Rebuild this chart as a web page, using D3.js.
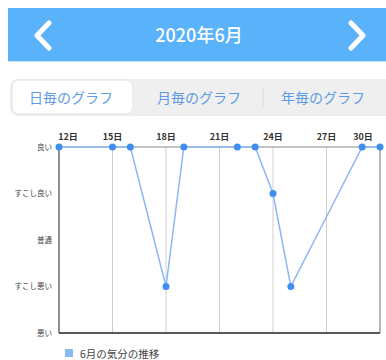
<!DOCTYPE html>
<html>
<head>
<meta charset="utf-8">
<script src="https://cdn.jsdelivr.net/npm/d3@7"></script>
<style>
  body { margin: 0; background: #fff; }
  svg { display: block; font-family: "Noto Sans CJK JP", "Noto Sans", sans-serif; }
</style>
</head>
<body>
<script>
// data
var days = [12, 15, 16, 18, 19, 22, 23, 24, 25, 29, 30];
var moods = ["良い", "良い", "良い", "すこし悪い", "良い", "良い", "良い", "すこし良い", "すこし悪い", "良い", "良い"];
var levels = ["悪い", "すこし悪い", "普通", "すこし良い", "良い"];
var dayTicks = [12, 15, 18, 21, 24, 27, 30];
var tabs = ["日毎のグラフ", "月毎のグラフ", "年毎のグラフ"];
var title = "2020年6月";
var legendLabel = "6月の気分の推移";

var W = 386, H = 360;
var svg = d3.select("body").append("svg").attr("width", W).attr("height", H);

// header bar
svg.append("rect").attr("x", 8).attr("y", 8).attr("width", W - 8).attr("height", 53).attr("fill", "#5ab3fa");
svg.append("rect").attr("x", 8).attr("y", 61).attr("width", W - 8).attr("height", 1).attr("fill", "#c9e4fb");
svg.append("text").attr("x", 199).attr("y", 42).attr("text-anchor", "middle")
  .attr("fill", "#fff").attr("font-size", 18).attr("font-weight", 500).text(title);
svg.append("path").attr("d", "M49,23 L37,35.5 L49,48").attr("fill", "none")
  .attr("stroke", "#fff").attr("stroke-width", 5).attr("stroke-linecap", "round").attr("stroke-linejoin", "round");
svg.append("path").attr("d", "M351,23 L363,35.5 L351,48").attr("fill", "none")
  .attr("stroke", "#fff").attr("stroke-width", 5).attr("stroke-linecap", "round").attr("stroke-linejoin", "round");

// segmented control
svg.append("rect").attr("x", 10).attr("y", 79).attr("width", 386).attr("height", 37).attr("rx", 8).attr("fill", "#efeff0");
svg.append("rect").attr("x", 12).attr("y", 80).attr("width", 121).attr("height", 34).attr("rx", 7)
  .attr("fill", "#fff").attr("stroke", "#e2e2e2");
svg.append("line").attr("x1", 263).attr("x2", 263).attr("y1", 87).attr("y2", 108).attr("stroke", "#d8d8d8");
var tabX = [71, 199, 323];
svg.selectAll(".tab").data(tabs).enter().append("text")
  .attr("x", function(d, i) { return tabX[i]; }).attr("y", 103)
  .attr("text-anchor", "middle").attr("font-size", 14).attr("fill", "#5b9be6")
  .text(function(d) { return d; });

// chart
var x = d3.scaleLinear().domain([12, 30]).range([59, 380]);
var y = d3.scalePoint().domain(levels).range([333, 147]);

var g = svg.append("g");

// vertical grid
g.selectAll(".grid").data(dayTicks.slice(1, -1)).enter().append("line")
  .attr("x1", function(d) { return x(d); }).attr("x2", function(d) { return x(d); })
  .attr("y1", y("良い")).attr("y2", y("悪い")).attr("stroke", "#cfcfcf").attr("stroke-width", 1);

// top and right border
g.append("line").attr("x1", x(12)).attr("x2", x(30)).attr("y1", y("良い")).attr("y2", y("良い"))
  .attr("stroke", "#8a8a8a").attr("stroke-width", 1.2);
g.append("line").attr("x1", x(30)).attr("x2", x(30)).attr("y1", y("良い")).attr("y2", y("悪い"))
  .attr("stroke", "#8a8a8a").attr("stroke-width", 1.2);

// axes
g.append("line").attr("x1", x(12)).attr("x2", x(12)).attr("y1", y("良い")).attr("y2", y("悪い"))
  .attr("stroke", "#555").attr("stroke-width", 1.3);
g.append("line").attr("x1", x(12)).attr("x2", x(30)).attr("y1", y("悪い")).attr("y2", y("悪い"))
  .attr("stroke", "#222").attr("stroke-width", 1.5);

// x tick labels
g.selectAll(".xt").data(dayTicks).enter().append("text")
  .attr("x", function(d, i) { return i === 0 ? x(d) + 9 : (i === dayTicks.length - 1 ? x(d) - 17 : x(d)); })
  .attr("y", 140).attr("text-anchor", "middle").attr("font-size", 9).attr("font-weight", 600).attr("fill", "#333")
  .text(function(d) { return d + "日"; });

// y tick labels
g.selectAll(".yt").data(levels).enter().append("text")
  .attr("x", 52).attr("y", function(d) { return y(d) + 2.5; })
  .attr("text-anchor", "end").attr("font-size", 7.5).attr("fill", "#444")
  .text(function(d) { return d; });

// line + points
var pts = days.map(function(d, i) { return [d, moods[i]]; });
g.append("path").datum(pts)
  .attr("d", d3.line().x(function(d) { return x(d[0]); }).y(function(d) { return y(d[1]); }))
  .attr("fill", "none").attr("stroke", "#8cb8f2").attr("stroke-width", 1.5);
g.selectAll(".pt").data(pts).enter().append("circle")
  .attr("cx", function(d) { return x(d[0]); }).attr("cy", function(d) { return y(d[1]); })
  .attr("r", 3.5).attr("fill", "#3d8ef0");

// legend
svg.append("rect").attr("x", 65).attr("y", 349).attr("width", 8).attr("height", 8).attr("fill", "#8ab6f2");
svg.append("text").attr("x", 80).attr("y", 357.5).attr("font-size", 10.5).attr("fill", "#444").text(legendLabel);
</script>
</body>
</html>
